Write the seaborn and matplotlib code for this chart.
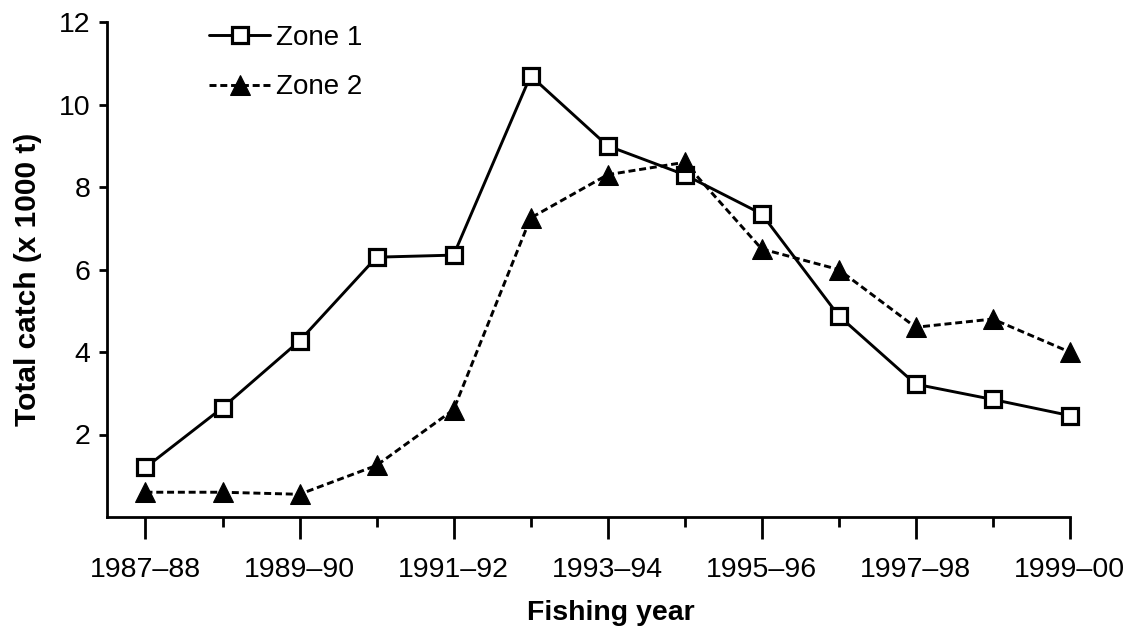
import numpy as np
import pandas as pd
import matplotlib
matplotlib.use("Agg")
import matplotlib.pyplot as plt
import seaborn as sns

# data
years = ["1987–88", "1988–89", "1989–90", "1990–91", "1991–92", "1992–93", "1993–94",
         "1994–95", "1995–96", "1996–97", "1997–98", "1998–99", "1999–00"]
zone1 = [1.2, 2.65, 4.27, 6.3, 6.35, 10.7, 9.0, 8.3, 7.35, 4.88, 3.22, 2.85, 2.46]
zone2 = [0.6, 0.6, 0.55, 1.25, 2.6, 7.25, 8.3, 8.6, 6.5, 6.0, 4.6, 4.8, 4.0]
major_labels = ["1987–88", "1989–90", "1991–92", "1993–94", "1995–96", "1997–98", "1999–00"]
y_ticks = [2, 4, 6, 8, 10, 12]

df = pd.DataFrame({"idx": np.arange(len(years)), "Zone 1": zone1, "Zone 2": zone2})

sns.set_style("ticks")
plt.rcParams["font.family"] = ["Liberation Sans", "DejaVu Sans"]
plt.rcParams["text.color"] = "black"
plt.rcParams["axes.labelcolor"] = "black"
plt.rcParams["xtick.color"] = "black"
plt.rcParams["ytick.color"] = "black"

fig = plt.figure(figsize=(11.32, 6.32), dpi=100)
ax = fig.add_axes([0.0945, 0.182, 0.8505, 0.783])

sns.lineplot(data=df, x="idx", y="Zone 1", ax=ax, color="black", lw=2.1,
             marker="s", markersize=11, markerfacecolor="white",
             markeredgecolor="black", markeredgewidth=2.3, label="Zone 1",
             clip_on=False, zorder=3)
sns.lineplot(data=df, x="idx", y="Zone 2", ax=ax, color="black", lw=2.1,
             linestyle=(0, (2.4, 1.3)), marker="^", markersize=14,
             markerfacecolor="black", markeredgecolor="black", label="Zone 2",
             clip_on=False, zorder=3)

ax.set_xlim(-0.5, 12)
ax.set_ylim(0, 12)
ax.set_xticks(np.arange(0, 13, 2))
ax.set_xticklabels(major_labels)
ax.set_xticks(np.arange(1, 13, 2), minor=True)
ax.set_yticks(y_ticks)
ax.tick_params(axis="both", labelsize=20.5, width=2, colors="black")
ax.tick_params(axis="x", which="major", length=16, pad=13)
ax.tick_params(axis="x", which="minor", length=7, width=2)
ax.tick_params(axis="y", length=6, pad=6)
for s in ["left", "bottom"]:
    ax.spines[s].set_linewidth(2)
    ax.spines[s].set_color("black")
sns.despine(ax=ax)

ax.set_xlabel("Fishing year", fontsize=20.5, fontweight="bold")
ax.xaxis.set_label_coords(0.523, -0.168)
ax.set_ylabel("Total catch (x 1000 t)", fontsize=21.5, fontweight="bold")
ax.yaxis.set_label_coords(-0.068, 0.48)

ax.legend(loc="upper left", bbox_to_anchor=(0.08, 1.045), frameon=False, fontsize=20,
          handlelength=2.2, handletextpad=0.2, labelspacing=0.85)

fig.savefig("out.png", dpi=100)
